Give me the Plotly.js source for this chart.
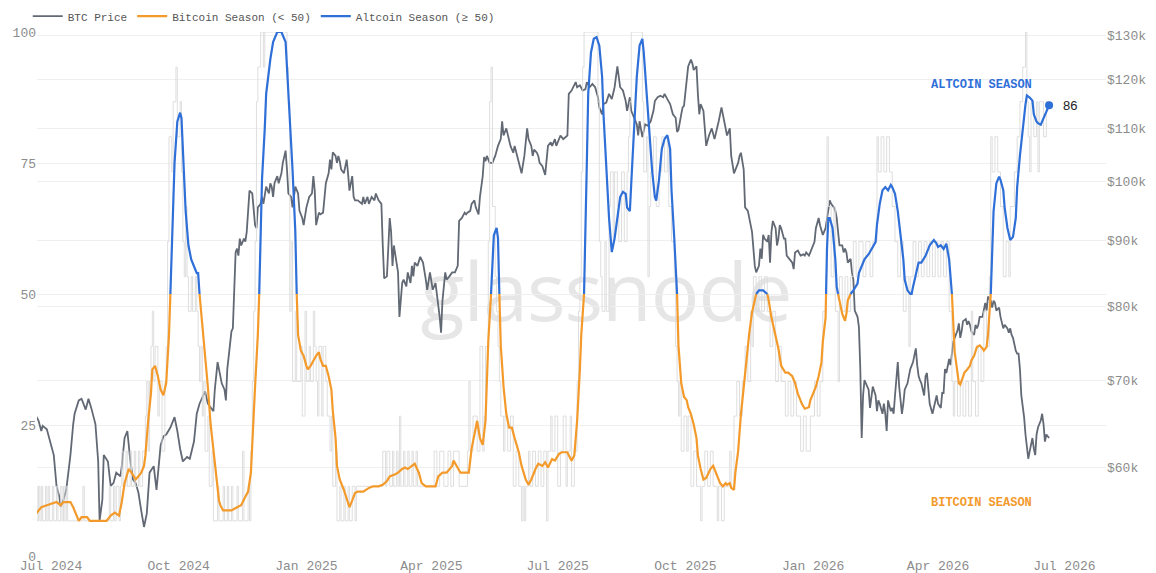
<!DOCTYPE html>
<html>
<head>
<meta charset="utf-8">
<script src="https://cdn.plot.ly/plotly-3.0.1.min.js"></script>
<style>
  html, body { margin: 0; padding: 0; background: #ffffff; }
  #wrap { position: relative; width: 1156px; height: 573px; overflow: hidden; }
  #wm { position: absolute; left: 606px; top: 249px; transform: translateX(-50%);
        font-family: "Open Sans", "Noto Sans", sans-serif; font-size: 81px; line-height: 1;
        color: #e6e6e6; white-space: nowrap; letter-spacing: -1px; }
  #chart { position: absolute; left: 0; top: 0; width: 1156px; height: 573px; }
</style>
</head>
<body>
<div id="wrap">
  <div id="wm">glassnode</div>
  <div id="chart"></div>
</div>
<script>
// ---------------- DATA ----------------
// BTC price (thousands of USD)
const btcDates = [
'2024-06-20','2024-06-22','2024-06-24','2024-06-25','2024-06-28',
'2024-07-01','2024-07-03','2024-07-05','2024-07-07','2024-07-08','2024-07-10','2024-07-12','2024-07-15','2024-07-17','2024-07-18','2024-07-21','2024-07-23','2024-07-26','2024-07-28','2024-07-30',
'2024-08-02','2024-08-04','2024-08-05','2024-08-07','2024-08-08','2024-08-11','2024-08-13','2024-08-15','2024-08-17','2024-08-20','2024-08-21','2024-08-23','2024-08-25','2024-08-27','2024-08-29','2024-08-31',
'2024-09-02','2024-09-04','2024-09-06','2024-09-08','2024-09-10','2024-09-13','2024-09-15','2024-09-18','2024-09-20','2024-09-22','2024-09-25','2024-09-28','2024-09-30',
'2024-10-02','2024-10-04','2024-10-07','2024-10-09','2024-10-12','2024-10-14','2024-10-16','2024-10-19','2024-10-20','2024-10-22','2024-10-24','2024-10-26','2024-10-27','2024-10-29','2024-10-30',
'2024-11-01','2024-11-03','2024-11-04','2024-11-05','2024-11-07','2024-11-08','2024-11-09','2024-11-11','2024-11-12','2024-11-13','2024-11-14','2024-11-15','2024-11-17','2024-11-18','2024-11-19','2024-11-21','2024-11-23','2024-11-24','2024-11-25','2024-11-26','2024-11-27','2024-11-29','2024-11-30',
'2024-12-01','2024-12-02','2024-12-03','2024-12-05','2024-12-06','2024-12-07','2024-12-08','2024-12-09','2024-12-11','2024-12-12','2024-12-14','2024-12-15','2024-12-17','2024-12-18','2024-12-19','2024-12-21','2024-12-22','2024-12-24','2024-12-26','2024-12-27','2024-12-29','2024-12-30',
'2025-01-01','2025-01-03','2025-01-05','2025-01-06','2025-01-07','2025-01-08','2025-01-10','2025-01-11','2025-01-13','2025-01-15','2025-01-17','2025-01-18','2025-01-19','2025-01-20','2025-01-22','2025-01-23','2025-01-24','2025-01-25','2025-01-26','2025-01-28','2025-01-30','2025-01-31',
'2025-02-01','2025-02-03','2025-02-04','2025-02-05','2025-02-07','2025-02-10','2025-02-11','2025-02-12','2025-02-14','2025-02-15','2025-02-17','2025-02-19','2025-02-20','2025-02-22','2025-02-24','2025-02-25','2025-02-26','2025-02-28',
'2025-03-02','2025-03-03','2025-03-04','2025-03-05','2025-03-07','2025-03-08','2025-03-09','2025-03-11','2025-03-12','2025-03-14','2025-03-15','2025-03-17','2025-03-18','2025-03-19','2025-03-20','2025-03-22','2025-03-24','2025-03-26','2025-03-28','2025-03-29','2025-03-31',
'2025-04-02','2025-04-04','2025-04-05','2025-04-07','2025-04-08','2025-04-09','2025-04-11','2025-04-12','2025-04-14','2025-04-16','2025-04-18','2025-04-20','2025-04-21','2025-04-23','2025-04-25','2025-04-26','2025-04-27','2025-04-29','2025-04-30',
'2025-05-02','2025-05-03','2025-05-05','2025-05-06','2025-05-08','2025-05-09','2025-05-10','2025-05-11','2025-05-13','2025-05-15','2025-05-17','2025-05-19','2025-05-21','2025-05-22','2025-05-23','2025-05-25','2025-05-27','2025-05-28','2025-05-30','2025-05-31',
'2025-06-02','2025-06-03','2025-06-05','2025-06-07','2025-06-09','2025-06-10','2025-06-12','2025-06-13','2025-06-14','2025-06-16','2025-06-17','2025-06-18','2025-06-20','2025-06-22','2025-06-23','2025-06-24','2025-06-26','2025-06-27','2025-06-29','2025-06-30',
'2025-07-03','2025-07-05','2025-07-08','2025-07-09','2025-07-11','2025-07-14','2025-07-15','2025-07-17','2025-07-19','2025-07-21','2025-07-22','2025-07-24','2025-07-26','2025-07-28','2025-07-30','2025-07-31',
'2025-08-02','2025-08-03','2025-08-05','2025-08-07','2025-08-09','2025-08-11','2025-08-13','2025-08-14','2025-08-15','2025-08-17','2025-08-19','2025-08-20','2025-08-21','2025-08-22','2025-08-23','2025-08-25','2025-08-27','2025-08-28','2025-08-29','2025-08-31',
'2025-09-02','2025-09-04','2025-09-06','2025-09-08','2025-09-09','2025-09-11','2025-09-13','2025-09-15','2025-09-16','2025-09-18','2025-09-20','2025-09-22','2025-09-24','2025-09-25','2025-09-26','2025-09-28','2025-09-29','2025-09-30',
'2025-10-02','2025-10-03','2025-10-05','2025-10-06','2025-10-07','2025-10-09','2025-10-10','2025-10-11','2025-10-12','2025-10-14','2025-10-15','2025-10-16','2025-10-18','2025-10-20','2025-10-22','2025-10-24','2025-10-25','2025-10-27','2025-10-28','2025-10-30','2025-10-31',
'2025-11-02','2025-11-03','2025-11-05','2025-11-06','2025-11-08','2025-11-09','2025-11-10','2025-11-12','2025-11-13','2025-11-15','2025-11-17','2025-11-18','2025-11-19','2025-11-20','2025-11-21','2025-11-23','2025-11-24','2025-11-25','2025-11-26','2025-11-27','2025-11-29','2025-11-30',
'2025-12-01','2025-12-02','2025-12-03','2025-12-05','2025-12-06','2025-12-07','2025-12-08','2025-12-09','2025-12-11','2025-12-12','2025-12-13','2025-12-15','2025-12-17','2025-12-18','2025-12-19','2025-12-21','2025-12-23','2025-12-25','2025-12-26','2025-12-27','2025-12-29','2025-12-30','2025-12-31',
'2026-01-02','2026-01-03','2026-01-05','2026-01-06','2026-01-07','2026-01-08','2026-01-10','2026-01-12','2026-01-13','2026-01-14','2026-01-16','2026-01-17','2026-01-18','2026-01-19','2026-01-20','2026-01-22','2026-01-23','2026-01-24','2026-01-25','2026-01-26','2026-01-28','2026-01-29','2026-01-30','2026-01-31',
'2026-02-02','2026-02-03','2026-02-04','2026-02-05','2026-02-06','2026-02-07','2026-02-08','2026-02-10','2026-02-11','2026-02-13','2026-02-15','2026-02-16','2026-02-17','2026-02-18','2026-02-20','2026-02-21','2026-02-22','2026-02-23','2026-02-24','2026-02-26','2026-02-27','2026-02-28',
'2026-03-01','2026-03-03','2026-03-04','2026-03-06','2026-03-07','2026-03-08','2026-03-10','2026-03-11','2026-03-12','2026-03-14','2026-03-16','2026-03-17','2026-03-18','2026-03-19','2026-03-20','2026-03-22','2026-03-23','2026-03-24','2026-03-25','2026-03-26','2026-03-28','2026-03-29','2026-03-31',
'2026-04-01','2026-04-03','2026-04-04','2026-04-05','2026-04-06','2026-04-07','2026-04-09','2026-04-10','2026-04-11','2026-04-12','2026-04-13','2026-04-15','2026-04-16','2026-04-17','2026-04-18','2026-04-19','2026-04-21','2026-04-22','2026-04-23','2026-04-24','2026-04-25','2026-04-27','2026-04-28','2026-04-29','2026-04-30',
'2026-05-01','2026-05-03','2026-05-04','2026-05-05','2026-05-06','2026-05-07','2026-05-09','2026-05-10','2026-05-11','2026-05-12','2026-05-13','2026-05-15','2026-05-16','2026-05-17','2026-05-18','2026-05-19','2026-05-21','2026-05-22','2026-05-23','2026-05-24','2026-05-25','2026-05-27','2026-05-28','2026-05-29','2026-05-30','2026-05-31',
'2026-06-02','2026-06-03','2026-06-04','2026-06-05','2026-06-06','2026-06-08','2026-06-09','2026-06-10','2026-06-11','2026-06-12','2026-06-14','2026-06-15','2026-06-16','2026-06-17','2026-06-18','2026-06-20'
];
const btcPrice = [
65.8,65.2,64.0,64.6,64.2,
62.6,61.3,58.0,56.9,55.9,56.6,57.6,61.3,64.8,66.0,67.6,67.8,66.5,67.8,66.7,
64.8,60.6,54.5,56.6,61.3,60.6,58.0,58.3,59.4,59.0,60.1,63.2,64.0,60.9,58.7,58.3,
57.3,55.5,53.9,55.2,59.4,60.1,57.6,62.4,63.4,63.6,64.4,65.6,64.0,
62.0,60.6,61.1,60.9,62.8,66.0,67.2,68.2,68.7,67.2,66.7,66.3,68.9,72.4,71.5,
69.7,68.9,67.6,71.5,75.1,76.5,76.9,88.1,88.7,87.6,90.3,89.2,90.3,89.8,91.4,98.4,97.9,94.9,92.5,92.0,95.5,96.1,97.3,
96.1,97.3,99.1,97.9,99.7,99.1,97.3,99.7,101.0,99.7,101.5,103.4,105.7,102.2,97.9,97.3,95.5,99.1,97.9,94.9,93.7,92.5,
95.5,97.3,97.9,101.0,98.4,92.5,94.6,94.3,94.6,99.7,101.5,104.0,102.2,105.4,104.7,103.4,104.7,103.7,102.2,101.5,104.0,101.5,
98.4,101.0,97.3,96.7,96.7,96.1,97.3,96.1,97.3,96.1,97.3,96.7,97.9,96.7,96.1,89.2,84.1,84.4,
93.7,91.4,86.0,89.2,86.5,85.0,78.5,83.4,83.9,82.9,85.0,83.4,86.0,84.4,86.5,86.0,87.4,86.5,83.9,82.4,85.0,
82.4,83.4,81.9,78.5,76.3,80.8,85.0,83.9,84.4,85.0,85.0,86.0,93.2,93.7,94.6,94.3,94.6,94.9,96.1,
96.7,95.5,94.3,97.3,101.0,104.5,103.7,104.7,103.4,103.4,104.7,106.6,107.9,111.4,108.6,110.0,107.9,106.6,105.3,106.6,
104.5,103.4,101.5,104.7,110.0,107.9,106.6,104.7,105.9,105.3,104.7,103.4,102.8,101.2,104.7,106.6,107.3,106.6,107.9,106.6,
108.6,107.9,108.6,117.0,117.7,119.5,118.4,118.8,117.7,118.0,119.5,118.4,119.1,118.4,116.3,114.2,
112.8,114.9,115.2,117.0,115.9,118.4,122.9,119.9,118.4,117.7,115.5,113.5,114.9,116.3,113.5,112.1,110.8,108.6,111.4,108.3,
110.8,110.5,111.4,113.5,115.5,116.3,116.6,116.3,117.0,115.9,114.9,112.8,112.1,109.3,109.7,112.8,114.2,114.5,
120.6,122.9,124.4,123.6,122.1,122.9,117.0,112.8,114.9,113.5,110.0,106.6,108.6,110.0,107.9,110.0,111.4,114.2,112.8,110.0,108.6,
110.0,104.7,101.5,102.2,103.4,104.7,105.3,102.2,95.5,94.9,92.5,91.4,88.7,86.0,85.0,86.0,88.7,87.1,90.9,90.3,89.8,90.9,
86.5,91.4,93.2,92.0,89.2,90.3,92.5,92.0,90.3,90.3,87.6,87.1,86.5,85.5,88.1,88.4,87.6,87.8,87.6,88.1,87.6,88.1,88.7,
89.8,92.0,93.7,92.5,91.4,90.9,92.0,95.5,96.7,96.1,95.5,94.9,93.7,91.4,89.2,89.2,88.1,88.7,88.1,86.5,87.1,85.0,83.9,79.4,
78.5,77.1,71.5,63.2,68.2,70.1,69.7,68.9,66.7,69.3,68.2,66.3,67.6,67.2,66.0,67.2,66.0,64.0,67.6,66.3,66.7,66.0,
68.2,72.4,69.3,66.0,67.2,68.9,69.7,70.6,71.5,72.4,74.2,72.0,70.6,70.1,69.7,68.2,70.6,71.0,69.3,67.2,66.0,66.7,68.2,
67.2,66.7,68.5,68.5,71.5,71.0,72.8,72.0,73.5,75.1,75.6,76.6,77.6,75.6,76.5,77.9,78.2,77.4,77.9,77.4,76.5,76.0,77.4,76.9,77.4,
78.5,78.5,79.4,80.5,79.4,81.4,80.8,79.8,80.8,80.5,79.4,79.8,78.5,77.4,76.9,77.4,76.9,76.3,76.9,76.0,75.6,73.9,73.5,73.5,71.5,68.2,
65.6,63.6,62.0,60.9,61.7,63.2,62.0,61.3,63.6,64.4,65.2,66.0,64.8,62.8,63.6,63.2
];

// Altcoin season index, smoothed
const idxDates = [
'2024-06-20','2024-06-22','2024-06-24','2024-06-28',
'2024-07-02','2024-07-05','2024-07-08','2024-07-10','2024-07-15','2024-07-17','2024-07-21','2024-07-23','2024-07-27','2024-07-29',
'2024-08-02','2024-08-05','2024-08-10','2024-08-13','2024-08-16','2024-08-19','2024-08-21','2024-08-23','2024-08-26','2024-08-28','2024-08-31',
'2024-09-02','2024-09-04','2024-09-06','2024-09-07','2024-09-09','2024-09-11','2024-09-12','2024-09-14','2024-09-16','2024-09-18','2024-09-20','2024-09-22','2024-09-24','2024-09-25','2024-09-27','2024-09-28','2024-09-30',
'2024-10-02','2024-10-03','2024-10-04','2024-10-06','2024-10-08','2024-10-10','2024-10-12','2024-10-14','2024-10-15','2024-10-16','2024-10-18','2024-10-20','2024-10-22','2024-10-24','2024-10-26','2024-10-28','2024-10-30','2024-10-31',
'2024-11-02','2024-11-05','2024-11-08','2024-11-12','2024-11-15','2024-11-18','2024-11-20','2024-11-22','2024-11-23','2024-11-25','2024-11-27','2024-11-28','2024-11-29','2024-11-30',
'2024-12-02','2024-12-03','2024-12-06','2024-12-08','2024-12-11','2024-12-14','2024-12-17','2024-12-18','2024-12-20','2024-12-22','2024-12-24','2024-12-25','2024-12-26','2024-12-28','2024-12-30',
'2025-01-01','2025-01-02','2025-01-04','2025-01-06','2025-01-08','2025-01-10','2025-01-11','2025-01-13','2025-01-15','2025-01-17','2025-01-19','2025-01-20','2025-01-22','2025-01-23','2025-01-25','2025-01-28','2025-01-30',
'2025-02-01','2025-02-03','2025-02-05','2025-02-07','2025-02-11','2025-02-15','2025-02-18','2025-02-22','2025-02-25','2025-02-28',
'2025-03-02','2025-03-06','2025-03-08','2025-03-11','2025-03-13','2025-03-15','2025-03-18','2025-03-20','2025-03-23','2025-03-25','2025-03-28','2025-03-31',
'2025-04-04','2025-04-06','2025-04-09','2025-04-12','2025-04-16','2025-04-17','2025-04-19','2025-04-22','2025-04-25','2025-04-28','2025-04-30',
'2025-05-03','2025-05-04','2025-05-06','2025-05-08','2025-05-10','2025-05-11','2025-05-12','2025-05-14','2025-05-15','2025-05-16','2025-05-18','2025-05-19','2025-05-20','2025-05-21','2025-05-23','2025-05-25','2025-05-27','2025-05-29','2025-05-31',
'2025-06-03','2025-06-05','2025-06-08','2025-06-10','2025-06-12','2025-06-15','2025-06-17','2025-06-20','2025-06-22','2025-06-24','2025-06-27','2025-06-29',
'2025-07-02','2025-07-04','2025-07-06','2025-07-08','2025-07-09','2025-07-11','2025-07-13','2025-07-15','2025-07-17','2025-07-18','2025-07-20','2025-07-21','2025-07-22','2025-07-23','2025-07-25','2025-07-27','2025-07-29','2025-07-31',
'2025-08-02','2025-08-03','2025-08-05','2025-08-07','2025-08-09','2025-08-11','2025-08-13','2025-08-15','2025-08-17','2025-08-19','2025-08-20','2025-08-22','2025-08-23','2025-08-25','2025-08-27','2025-08-29','2025-08-31',
'2025-09-01','2025-09-03','2025-09-05','2025-09-07','2025-09-09','2025-09-10','2025-09-12','2025-09-14','2025-09-16','2025-09-18','2025-09-20','2025-09-21','2025-09-23','2025-09-25','2025-09-26','2025-09-28','2025-09-30',
'2025-10-02','2025-10-03','2025-10-05','2025-10-07','2025-10-09','2025-10-10','2025-10-12','2025-10-14','2025-10-16','2025-10-19','2025-10-21','2025-10-22','2025-10-24','2025-10-26','2025-10-28','2025-10-30','2025-10-31',
'2025-11-02','2025-11-03','2025-11-05','2025-11-06','2025-11-08','2025-11-10','2025-11-13','2025-11-16','2025-11-18','2025-11-20','2025-11-21','2025-11-23','2025-11-26','2025-11-29','2025-11-30',
'2025-12-02','2025-12-05','2025-12-07','2025-12-09','2025-12-12','2025-12-14','2025-12-17','2025-12-19','2025-12-21','2025-12-24','2025-12-26','2025-12-29','2025-12-30',
'2026-01-01','2026-01-03','2026-01-05','2026-01-07','2026-01-08','2026-01-10','2026-01-11','2026-01-12','2026-01-13','2026-01-15','2026-01-17','2026-01-18','2026-01-19','2026-01-20','2026-01-22','2026-01-24','2026-01-25','2026-01-26','2026-01-28','2026-01-30',
'2026-02-02','2026-02-03','2026-02-05','2026-02-07','2026-02-10','2026-02-12','2026-02-15','2026-02-16','2026-02-18','2026-02-20','2026-02-22','2026-02-24','2026-02-26','2026-02-27',
'2026-03-01','2026-03-03','2026-03-05','2026-03-07','2026-03-08','2026-03-10','2026-03-12','2026-03-13','2026-03-14','2026-03-16','2026-03-18','2026-03-20','2026-03-23','2026-03-25','2026-03-26','2026-03-29','2026-03-31',
'2026-04-01','2026-04-03','2026-04-05','2026-04-07','2026-04-09','2026-04-10','2026-04-11','2026-04-12','2026-04-13','2026-04-15','2026-04-16','2026-04-17','2026-04-18','2026-04-20','2026-04-22','2026-04-24','2026-04-25','2026-04-27','2026-04-29',
'2026-05-01','2026-05-03','2026-05-04','2026-05-06','2026-05-07','2026-05-08','2026-05-09','2026-05-10','2026-05-11','2026-05-13','2026-05-15','2026-05-16','2026-05-18','2026-05-19','2026-05-21','2026-05-23','2026-05-25','2026-05-27','2026-05-28','2026-05-30',
'2026-06-01','2026-06-03','2026-06-04','2026-06-06','2026-06-08','2026-06-09','2026-06-11','2026-06-12','2026-06-14','2026-06-16','2026-06-18','2026-06-20'
];
const idxValues = [
8.0,8.7,9.3,9.7,
10.0,10.3,9.7,10.3,10.3,9.3,6.7,7.4,7.4,6.7,
6.7,6.7,6.7,7.7,8.3,7.7,10.3,13.9,16.6,15.9,14.6,
15.2,15.9,17.2,19.2,25.8,31.0,35.6,36.3,34.3,31.7,30.7,33.0,42.2,50.0,64.5,75.0,82.9,
84.6,83.6,76.4,65.8,59.3,56.6,55.3,54.0,54.0,50.0,44.2,38.2,32.3,25.1,19.8,14.6,10.6,9.7,
8.7,8.7,8.7,9.3,9.7,11.3,12.3,15.9,22.5,32.3,42.2,50.0,60.6,71.8,
81.6,88.2,94.8,98.1,100,100,98.1,93.5,84.9,73.7,61.9,50.0,42.2,39.2,38.2,
36.3,35.6,36.3,37.3,38.2,38.9,37.6,36.3,36.3,34.3,31.7,27.7,22.5,17.2,14.6,12.6,11.0,
9.3,10.6,12.0,12.3,12.3,13.0,13.3,13.3,13.6,14.3,
15.2,15.6,15.9,16.6,16.9,16.6,17.2,17.6,15.9,13.9,13.3,13.3,
13.3,15.2,15.9,15.9,17.2,18.2,17.2,15.9,15.9,15.9,20.5,
25.1,25.8,22.5,21.2,25.8,32.3,40.9,50.0,56.6,61.2,62.6,60.6,50.0,40.2,32.3,27.1,24.5,24.5,22.5,
19.8,17.2,14.6,13.6,14.6,16.6,17.6,17.2,17.9,16.9,18.5,18.2,
19.5,19.8,19.8,19.8,19.2,18.2,19.2,25.8,35.6,42.2,50.0,60.6,75.0,88.2,96.1,98.7,99.0,97.4,
91.5,84.3,75.0,64.5,58.0,60.6,64.5,68.5,69.5,69.1,66.5,65.8,71.1,81.6,91.5,97.4,98.7,
96.1,88.2,80.3,73.7,68.5,67.8,71.8,77.7,79.6,80.3,77.7,69.8,60.6,50.0,40.2,33.0,30.4,
29.7,28.4,27.1,25.1,22.5,19.2,16.6,14.6,14.9,16.6,17.2,16.6,15.2,13.9,13.3,13.9,13.6,
13.9,13.0,12.6,15.9,20.0,27.0,35.0,42.5,46.5,49.0,50.0,50.7,50.7,50.0,48.8,
45.5,42.2,39.6,36.3,35.0,35.0,34.3,33.0,31.0,29.0,28.1,28.4,29.7,
31.0,32.3,34.3,36.9,40.9,45.5,58.6,64.5,64.5,62.6,56.6,51.4,50.0,48.8,46.2,44.9,46.2,48.8,50.0,50.7,
52.0,54.0,55.3,56.6,57.6,58.6,59.9,63.2,67.2,69.8,70.4,69.8,70.8,70.4,
69.1,65.8,61.2,56.6,52.7,50.7,50.0,50.0,51.4,54.0,56.0,56.0,57.3,58.6,59.3,60.3,59.6,
59.0,59.3,58.6,59.6,56.6,53.4,50.0,44.2,38.9,35.0,33.0,32.7,33.6,35.0,35.6,36.3,37.3,38.2,39.9,
40.2,39.6,39.2,39.9,42.2,46.2,50.0,58.0,65.8,71.1,72.4,71.8,69.8,66.5,62.6,60.3,60.9,64.5,70.4,76.4,
81.6,86.2,87.9,87.5,86.9,84.3,82.9,82.6,82.3,83.6,84.9,86.0
];

// Altcoin season index, raw daily readings (step changes)
const rawDates = [
'2024-06-20','2024-06-21','2024-06-22','2024-06-23','2024-06-24','2024-06-25','2024-06-27','2024-06-28','2024-06-29','2024-06-30',
'2024-07-02','2024-07-03','2024-07-05','2024-07-06','2024-07-08','2024-07-09','2024-07-10','2024-07-11','2024-07-12','2024-07-13','2024-07-24','2024-07-25',
'2024-08-12','2024-08-13','2024-08-15','2024-08-16','2024-08-17','2024-08-19','2024-08-20','2024-08-21','2024-08-22','2024-08-24','2024-08-25','2024-08-27','2024-08-28','2024-08-30','2024-08-31',
'2024-09-02','2024-09-03','2024-09-05','2024-09-07','2024-09-08','2024-09-09','2024-09-10','2024-09-11','2024-09-12','2024-09-13','2024-09-14','2024-09-16','2024-09-17','2024-09-19','2024-09-21','2024-09-22','2024-09-23','2024-09-24','2024-09-26','2024-09-27','2024-09-29','2024-09-30',
'2024-10-02','2024-10-03','2024-10-04','2024-10-05','2024-10-06','2024-10-07','2024-10-08','2024-10-10','2024-10-11','2024-10-13','2024-10-14','2024-10-15','2024-10-16','2024-10-17','2024-10-18','2024-10-19','2024-10-20','2024-10-22','2024-10-23','2024-10-25','2024-10-26','2024-10-29','2024-10-30',
'2024-11-02','2024-11-03','2024-11-05','2024-11-06','2024-11-08','2024-11-09','2024-11-12','2024-11-13','2024-11-16','2024-11-17','2024-11-20','2024-11-21','2024-11-22','2024-11-23','2024-11-24','2024-11-25','2024-11-26','2024-11-27','2024-11-29',
'2024-12-01','2024-12-02','2024-12-18','2024-12-19','2024-12-20','2024-12-21','2024-12-22','2024-12-24','2024-12-25','2024-12-28','2024-12-29','2024-12-31',
'2025-01-01','2025-01-03','2025-01-04','2025-01-06','2025-01-07','2025-01-08','2025-01-09','2025-01-10','2025-01-12','2025-01-13','2025-01-15','2025-01-16','2025-01-18','2025-01-19','2025-01-20','2025-01-22','2025-01-23','2025-01-25','2025-01-26','2025-01-28','2025-01-29','2025-01-31',
'2025-02-01','2025-02-03','2025-02-05','2025-02-06','2025-02-25','2025-02-27','2025-02-28',
'2025-03-02','2025-03-04','2025-03-05','2025-03-07','2025-03-08','2025-03-09','2025-03-10','2025-03-12','2025-03-13','2025-03-15','2025-03-16','2025-03-18','2025-03-19','2025-03-21','2025-03-22',
'2025-04-03','2025-04-05','2025-04-07','2025-04-10','2025-04-13','2025-04-15','2025-04-17','2025-04-21','2025-04-27','2025-04-28','2025-04-29',
'2025-05-01','2025-05-04','2025-05-06','2025-05-08','2025-05-09','2025-05-10','2025-05-12','2025-05-13','2025-05-14','2025-05-15','2025-05-17','2025-05-18','2025-05-19','2025-05-20','2025-05-21','2025-05-23','2025-05-24','2025-05-26','2025-05-28','2025-05-30',
'2025-06-01','2025-06-03','2025-06-05','2025-06-06','2025-06-07','2025-06-08','2025-06-10','2025-06-11','2025-06-13','2025-06-15','2025-06-17','2025-06-19','2025-06-21','2025-06-23','2025-06-24','2025-06-26','2025-06-27','2025-06-29',
'2025-07-01','2025-07-03','2025-07-05','2025-07-07','2025-07-08','2025-07-10','2025-07-11','2025-07-13','2025-07-15','2025-07-16','2025-07-17','2025-07-18','2025-07-19','2025-07-20','2025-07-30','2025-07-31',
'2025-08-01','2025-08-02','2025-08-04','2025-08-05','2025-08-07','2025-08-08','2025-08-10','2025-08-11','2025-08-13','2025-08-14','2025-08-16','2025-08-18','2025-08-20','2025-08-21','2025-08-22','2025-08-23','2025-08-31',
'2025-09-01','2025-09-03','2025-09-04','2025-09-05','2025-09-06','2025-09-08','2025-09-10','2025-09-12','2025-09-14','2025-09-16','2025-09-18','2025-09-19','2025-09-21','2025-09-23','2025-09-24','2025-09-25','2025-09-26','2025-09-27','2025-09-28','2025-09-30',
'2025-10-02','2025-10-03','2025-10-05','2025-10-07','2025-10-09','2025-10-12','2025-10-13','2025-10-15','2025-10-17','2025-10-19','2025-10-21','2025-10-24','2025-10-25','2025-10-27','2025-10-29',
'2025-11-02','2025-11-03','2025-11-05','2025-11-07','2025-11-09','2025-11-11','2025-11-13','2025-11-15','2025-11-17','2025-11-18','2025-11-19','2025-11-21','2025-11-23','2025-11-25','2025-11-27','2025-11-29',
'2025-12-01','2025-12-03','2025-12-05','2025-12-07','2025-12-09','2025-12-12','2025-12-14','2025-12-16','2025-12-18','2025-12-20','2025-12-23','2025-12-25','2025-12-27','2025-12-30',
'2026-01-02','2026-01-04','2026-01-06','2026-01-08','2026-01-10','2026-01-11','2026-01-12','2026-01-14','2026-01-16','2026-01-17','2026-01-19','2026-01-20','2026-01-22','2026-01-24','2026-01-26','2026-01-28','2026-01-30',
'2026-02-01','2026-02-03','2026-02-06','2026-02-08','2026-02-11','2026-02-13','2026-02-16','2026-02-17','2026-02-19','2026-02-21','2026-02-23','2026-02-25','2026-02-27',
'2026-03-01','2026-03-03','2026-03-05','2026-03-07','2026-03-09','2026-03-11','2026-03-12','2026-03-14','2026-03-16','2026-03-18','2026-03-20','2026-03-22','2026-03-24','2026-03-26','2026-03-28','2026-03-30',
'2026-04-01','2026-04-03','2026-04-05','2026-04-07','2026-04-09','2026-04-11','2026-04-12','2026-04-13','2026-04-15','2026-04-17','2026-04-19','2026-04-21','2026-04-23','2026-04-25','2026-04-26','2026-04-28','2026-04-30',
'2026-05-02','2026-05-04','2026-05-06','2026-05-08','2026-05-09','2026-05-10','2026-05-12','2026-05-14','2026-05-16','2026-05-18','2026-05-20','2026-05-22','2026-05-23','2026-05-26','2026-05-28','2026-05-30',
'2026-06-01','2026-06-03','2026-06-04','2026-06-05','2026-06-06','2026-06-07','2026-06-09','2026-06-11','2026-06-12','2026-06-13','2026-06-16','2026-06-18','2026-06-20'
];
const rawValues = [
13.3,6.7,13.3,6.7,13.3,6.7,13.3,6.7,13.3,6.7,
13.3,6.7,13.3,6.7,13.3,6.7,13.3,6.7,13.3,6.7,13.3,6.7,
13.3,6.7,13.3,6.7,13.3,6.7,13.3,20,13.3,20,13.3,20,13.3,20,13.3,
20,13.3,20,26.7,33.3,20,33.3,40,46.7,33.3,40,26.7,33.3,20,33.3,40,60,80,73.3,86.7,93.3,80,
86.7,73.3,60,53.3,66.7,53.3,46.7,53.3,46.7,53.3,46.7,40,33.3,40,26.7,33.3,20,26.7,13.3,20,6.7,13.3,6.7,
13.3,6.7,13.3,6.7,13.3,6.7,13.3,6.7,20,6.7,13.3,6.7,20,33.3,46.7,60,86.7,93.3,100,
93.3,100,93.3,86.7,46.7,60,33.3,46.7,33.3,40,26.7,46.7,
33.3,40,33.3,46.7,40,33.3,26.7,40,26.7,40,33.3,26.7,20,26.7,13.3,20,6.7,13.3,6.7,13.3,6.7,13.3,
6.7,13.3,6.7,13.3,20,13.3,20,
13.3,20,13.3,20,13.3,26.7,13.3,20,13.3,20,13.3,20,13.3,20,13.3,
20,13.3,20,13.3,20,13.3,20,13.3,20,33.3,20,
26.7,20,40,20,26.7,40,60,86.7,93.3,66.7,53.3,46.7,40,33.3,26.7,20,26.7,20,26.7,13.3,
20,13.3,6.7,13.3,6.7,13.3,20,13.3,20,13.3,20,13.3,20,6.7,20,26.7,20,26.7,
13.3,20,26.7,13.3,20,26.7,13.3,20,33.3,46.7,53.3,73.3,93.3,100,86.7,60,
53.3,46.7,60,46.7,66.7,73.3,60,73.3,66.7,60,73.3,60,73.3,80,86.7,100,86.7,
73.3,80,53.3,66.7,73.3,80,66.7,73.3,80,73.3,80,66.7,60,53.3,40,33.3,26.7,33.3,20,26.7,
20,26.7,13.3,20,13.3,6.7,13.3,20,13.3,20,13.3,6.7,13.3,6.7,13.3,
20,13.3,26.7,33.3,26.7,33.3,40,33.3,46.7,40,53.3,46.7,53.3,46.7,53.3,46.7,
40,46.7,33.3,40,33.3,26.7,33.3,26.7,33.3,26.7,20,26.7,20,26.7,
33.3,26.7,33.3,46.7,53.3,80,66.7,53.3,66.7,46.7,33.3,53.3,46.7,53.3,46.7,53.3,60,
53.3,60,53.3,60,53.3,60,80,73.3,80,73.3,80,73.3,66.7,
60,53.3,60,46.7,53.3,40,53.3,60,53.3,60,53.3,60,53.3,60,53.3,60,
53.3,60,53.3,60,46.7,33.3,26.7,33.3,26.7,33.3,26.7,33.3,26.7,46.7,33.3,26.7,40,
33.3,46.7,40,53.3,80,73.3,80,73.3,66.7,53.3,60,53.3,66.7,73.3,80,86.7,
93.3,100,86.7,80,73.3,86.7,80,86.7,73.3,86.7,80,86.7,86.7
];

// Axis ticks
const priceTickVals = [60, 70, 80, 90, 100, 110, 120, 130];
const priceTickText = ['$60k', '$70k', '$80k', '$90k', '$100k', '$110k', '$120k', '$130k'];
const idxTickVals = [0, 25, 50, 75, 100];
const seasonThreshold = 50;

// ---------------- BUILD ----------------
function splitAt(dates, vals, thr) {
  const lo = {x: [], y: []}, hi = {x: [], y: []};
  let pT = null, pV = null;
  for (let i = 0; i < dates.length; i++) {
    const t = Date.parse(dates[i]);
    const v = vals[i];
    if (i > 0) {
      const a = pV >= thr, b = v >= thr;
      if (a !== b) {
        const tc = pT + (thr - pV) / (v - pV) * (t - pT);
        if (a) {
          hi.x.push(tc, null); hi.y.push(thr, null);
          lo.x.push(tc); lo.y.push(thr);
        } else {
          lo.x.push(tc, null); lo.y.push(thr, null);
          hi.x.push(tc); hi.y.push(thr);
        }
      }
    }
    const s = v >= thr ? hi : lo;
    s.x.push(t); s.y.push(v);
    pT = t; pV = v;
  }
  return {lo, hi};
}
const parts = splitAt(idxDates, idxValues, seasonThreshold);

const ORANGE = '#f39a2b';
const BLUE = '#2f6fd8';
const GRAY = '#626974';
const MONO = '"Liberation Mono", "DejaVu Sans Mono", monospace';

const traces = [
  { x: rawDates, y: rawValues, yaxis: 'y2', type: 'scatter', mode: 'lines',
    line: {color: '#dadada', width: 0.9, shape: 'hv'}, showlegend: false, hoverinfo: 'skip' },
  { x: btcDates, y: btcPrice, yaxis: 'y', type: 'scatter', mode: 'lines', name: 'BTC Price',
    line: {color: GRAY, width: 1.8} },
  { x: parts.lo.x, y: parts.lo.y, yaxis: 'y2', type: 'scatter', mode: 'lines', name: 'Bitcoin Season (< 50)',
    line: {color: ORANGE, width: 2.2}, connectgaps: false },
  { x: parts.hi.x, y: parts.hi.y, yaxis: 'y2', type: 'scatter', mode: 'lines', name: 'Altcoin Season (≥ 50)',
    line: {color: BLUE, width: 2.2}, connectgaps: false },
  { x: [idxDates[idxDates.length - 1]], y: [idxValues[idxValues.length - 1]], yaxis: 'y2', type: 'scatter',
    mode: 'markers', marker: {color: BLUE, size: 8}, showlegend: false }
];

const lastVal = idxValues[idxValues.length - 1];
const layout = {
  width: 1156, height: 573,
  margin: {l: 37, r: 50, t: 32, b: 17},
  paper_bgcolor: 'rgba(0,0,0,0)', plot_bgcolor: 'rgba(0,0,0,0)',
  showlegend: true,
  legend: {orientation: 'h', xref: 'container', yref: 'container', x: 0.024, y: 0.997,
           xanchor: 'left', yanchor: 'top', bgcolor: 'rgba(0,0,0,0)',
           font: {family: MONO, size: 11, color: '#555'}, traceorder: 'normal'},
  xaxis: {type: 'date', range: ['2024-06-20 22:00', '2026-07-31 00:00'],
          tick0: '2024-07-01', dtick: 'M3', tickformat: '%b %Y',
          showgrid: false, zeroline: false, showline: false, ticks: '',
          tickfont: {family: MONO, size: 13, color: '#8c8c8c'}},
  yaxis: {type: 'log', side: 'right', range: [Math.log10(51.17), Math.log10(130.7)],
          tickmode: 'array', tickvals: priceTickVals, ticktext: priceTickText,
          showgrid: true, gridcolor: '#efefef', gridwidth: 1, zeroline: false, showline: false, ticks: '',
          tickfont: {family: MONO, size: 13, color: '#8c8c8c'}},
  yaxis2: {overlaying: 'y', side: 'left', range: [0, 100], tickmode: 'array', tickvals: idxTickVals,
           showgrid: true, gridcolor: '#efefef', gridwidth: 1, zeroline: false, showline: false, ticks: '',
           tickfont: {family: MONO, size: 13, color: '#8c8c8c'}},
  annotations: [
    {xref: 'paper', yref: 'paper', x: 0.8344, y: 0.899, xanchor: 'left', yanchor: 'middle',
     text: '<b>ALTCOIN SEASON</b>', showarrow: false, font: {family: MONO, size: 12, color: BLUE}},
    {xref: 'paper', yref: 'paper', x: 0.8344, y: 0.101, xanchor: 'left', yanchor: 'middle',
     text: '<b>BITCOIN SEASON</b>', showarrow: false, font: {family: MONO, size: 12, color: ORANGE}},
    {xref: 'x', yref: 'y2', x: idxDates[idxDates.length - 1], y: lastVal, xanchor: 'left', yanchor: 'middle',
     xshift: 12, text: String(Math.round(lastVal)), showarrow: false,
     font: {family: '"Liberation Sans", Arial, sans-serif', size: 13, color: '#222'}}
  ]
};

Plotly.newPlot('chart', traces, layout, {displayModeBar: false, staticPlot: true});
</script>
</body>
</html>
